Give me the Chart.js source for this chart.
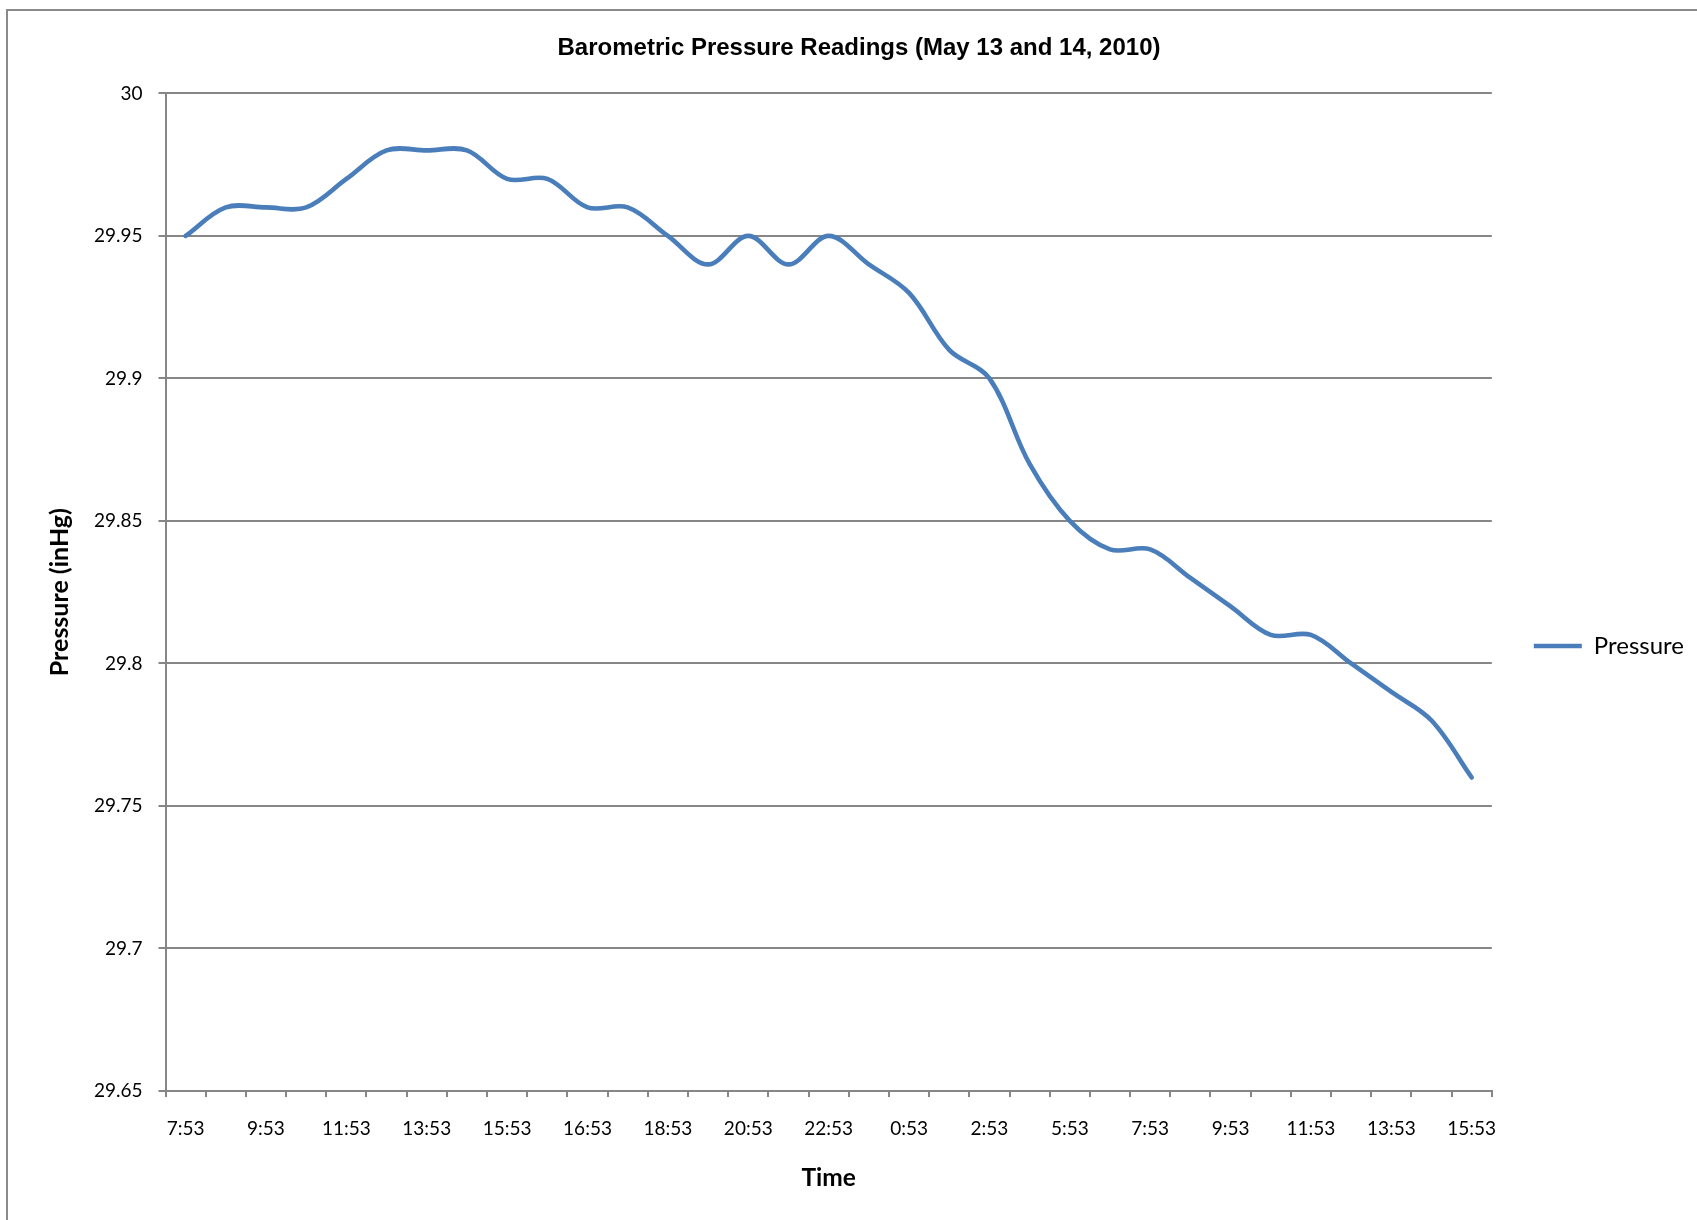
<!DOCTYPE html>
<html>
<head>
<meta charset="utf-8">
<title>Barometric Pressure Readings</title>
<script src="https://cdn.jsdelivr.net/npm/chart.js@4.4.1/dist/chart.umd.min.js"></script>
<style>
  html, body { margin: 0; padding: 0; background: #fff; overflow: hidden; width: 1697px; height: 1220px; }
  #frame { position: absolute; left: 6px; top: 9px; border: 2px solid #8a8a8a; width: 1704px; height: 1270px; background: #fff; }
  canvas { display: block; }
</style>
</head>
<body>
<div id="frame"><canvas id="chart" width="1704" height="1270"></canvas></div>
<script>
// Text
const chartTitle = 'Barometric Pressure Readings (May 13 and 14, 2010)';
const seriesName = 'Pressure';
const xAxisTitle = 'Time';
const yAxisTitle = 'Pressure (inHg)';

// One category per reading; only every other reading carries a time label
const timeLabels = [
  '7:53', '', '9:53', '', '11:53', '', '13:53', '', '15:53', '', '16:53', '',
  '18:53', '', '20:53', '', '22:53', '', '0:53', '', '2:53', '', '5:53', '',
  '7:53', '', '9:53', '', '11:53', '', '13:53', '', '15:53'
];

// Barometric pressure, inHg
const pressureValues = [
  29.95, 29.96, 29.96, 29.96, 29.97, 29.98, 29.98, 29.98, 29.97, 29.97, 29.96,
  29.96, 29.95, 29.94, 29.95, 29.94, 29.95, 29.94, 29.93, 29.91, 29.90, 29.87,
  29.85, 29.84, 29.84, 29.83, 29.82, 29.81, 29.81, 29.80, 29.79, 29.78, 29.76
];

// Value axis range
const yMin = 29.65;
const yMax = 30;
const yStep = 0.05;

const GRID = '#868686';
const LINE = '#4A7EBB';
const TEXT = '#000000';
const SANS = 'Lato, Calibri, "Open Sans", sans-serif';
const SIDE_PAD = 16;

new Chart(document.getElementById('chart'), {
  type: 'line',
  data: {
    labels: timeLabels,
    datasets: [{
      label: seriesName,
      data: pressureValues,
      borderColor: LINE,
      backgroundColor: LINE,
      borderWidth: 4.6,
      borderCapStyle: 'round',
      borderJoinStyle: 'round',
      pointRadius: 0,
      pointHoverRadius: 0,
      pointStyle: 'line',
      tension: 0.35,
      fill: false
    }]
  },
  options: {
    responsive: false,
    animation: false,
    devicePixelRatio: 1,
    layout: { padding: { left: SIDE_PAD, right: SIDE_PAD + 2, top: 0, bottom: 0 } },
    plugins: {
      title: {
        display: true,
        text: chartTitle,
        color: TEXT,
        font: { family: '"Liberation Sans", Arial, sans-serif', size: 24, weight: 'bold', lineHeight: 1.2 },
        padding: { top: 23, bottom: 30.6 }
      },
      legend: {
        position: 'right',
        labels: {
          usePointStyle: true,
          pointStyle: 'line',
          pointStyleWidth: 48,
          padding: 42,
          color: TEXT,
          font: { family: SANS, size: 24 }
        }
      },
      tooltip: { enabled: false }
    },
    scales: {
      x: {
        offset: true,
        grid: { offset: true, drawOnChartArea: false, drawTicks: true, tickLength: 6, color: GRID, lineWidth: 2 },
        border: { display: true, color: GRID, width: 2 },
        ticks: { autoSkip: false, maxRotation: 0, minRotation: 0, padding: 20, color: TEXT, font: { family: SANS, size: 19 } },
        title: {
          display: true,
          text: xAxisTitle,
          color: TEXT,
          font: { family: SANS, size: 24.5, weight: 'bold', lineHeight: 1.2 },
          padding: { top: 3.6, bottom: 88.2 }
        }
      },
      y: {
        min: yMin,
        max: yMax,
        ticks: {
          stepSize: yStep,
          padding: 16,
          color: TEXT,
          font: { family: SANS, size: 19 },
          callback: (v) => String(+(+v).toFixed(2))
        },
        grid: { color: GRID, lineWidth: 2, tickLength: 7 },
        border: { display: true, color: GRID, width: 2 },
        title: {
          display: true,
          text: yAxisTitle,
          color: TEXT,
          font: { family: SANS, size: 25, weight: 'bold', lineHeight: 1.2 },
          padding: { top: 20.5, bottom: 0 }
        },
        afterFit(scale) { scale.width = 157.5 - SIDE_PAD; }
      }
    }
  }
});
</script>
</body>
</html>
